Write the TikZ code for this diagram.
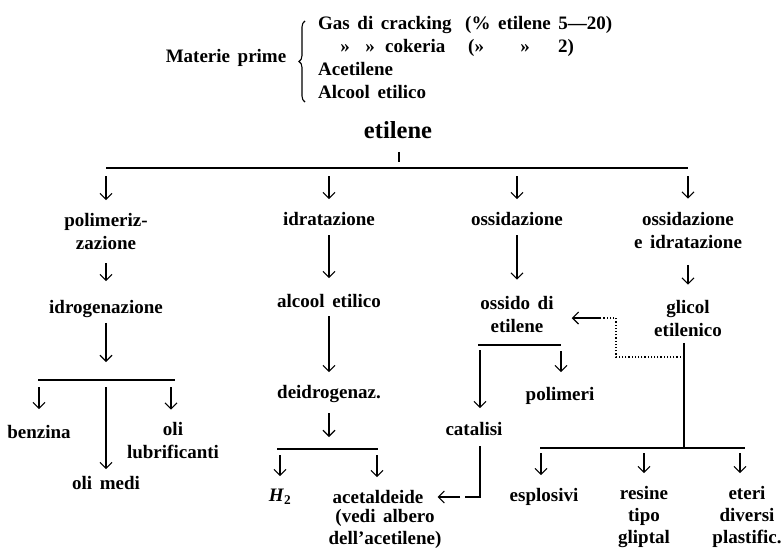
\documentclass[tikz,border=0pt]{standalone}
\usepackage{fontspec}
\setmainfont{Liberation Serif}[WordSpace=1.6]
\usetikzlibrary{arrows.meta,decorations.pathreplacing}
\begin{document}
\begin{tikzpicture}[x=1pt,y=-1pt,
  lbl/.style={inner sep=0pt, align=center, font=\fontsize{19}{23}\selectfont\bfseries},
  tight/.style={lbl, font=\fontsize{19}{22}\selectfont\bfseries},
  src/.style={lbl, anchor=base west},
  ditto/.style={lbl, anchor=base},
  big/.style={inner sep=0pt, font=\fontsize{24.5}{28}\selectfont\bfseries},
  ln/.style={line width=1.1pt},
  arr/.style={ln, -{Straight Barb[length=6pt,width=12pt]}},
  dots/.style={line width=1.2pt, dash pattern=on 1.2pt off 2pt},
]
\fill[white] (0,0) rectangle (784,551);
\useasboundingbox (0,0) rectangle (784,551);

% raw materials
\node[lbl] (mp) at (226,58) {Materie prime};
\draw[ln, decorate, decoration={brace, amplitude=6pt}] (305,102) -- (305,21);
\node[src]   (gas)  at (318,29.5) {Gas di cracking};
\node[src]   (gasp) at (465,29.5) {(\% etilene 5—20)};
\node[ditto] (d1)   at (345,52.5) {»};
\node[ditto] (d2)   at (370,52.5) {»};
\node[src]   (cok)  at (385,52.5) {cokeria};
\node[src]   (cokp) at (468,52.5) {(»};
\node[ditto] (d3)   at (525,52.5) {»};
\node[src]   (cokn) at (558,52.5) {2)};
\node[src]   (acet) at (318,75.5) {Acetilene};
\node[src]   (alc)  at (318,98.5) {Alcool etilico};

% root
\node[big] (etilene) at (398,130) {etilene};
\coordinate (bt) at (399,168);
\coordinate (b1) at (106,168);
\coordinate (b2) at (329,168);
\coordinate (b3) at (517,168);
\coordinate (b4) at (688,168);
\draw[ln] (b1) -- (b4);
\draw[ln, shorten <=13pt, shorten >=6pt] (etilene.south -| bt) -- (bt);

% first level
\node[lbl] (polim) at (106,231.5) {polimeriz-\\zazione};
\node[lbl] (idrat) at (329,219) {idratazione};
\node[lbl] (ossid) at (517,219) {ossidazione};
\node[lbl] (ossie) at (688,230) {ossidazione\\e idratazione};
\foreach \b/\n in {b1/polim, b2/idrat, b3/ossid, b4/ossie}
  \draw[arr, shorten <=8pt, shorten >=13pt] (\b) -- (\b |- \n.north);

% polymerisation branch
\node[lbl] (idrog) at (106,309) {idrogenazione};
\node[lbl] (benz)  at (39,432) {benzina};
\node[lbl] (olil)  at (173,441) {oli\\lubrificanti};
\node[lbl] (olim)  at (106,483) {oli medi};
\coordinate (c1) at (39,380);
\coordinate (c2) at (106,380);
\coordinate (c3) at (171,380);
\draw[arr, shorten <=13.5pt, shorten >=19pt] (polim.south) -- (idrog.north);
\draw[arr, shorten <=5pt, shorten >=18pt] (idrog.south) -- (c2);
\draw[ln] ([xshift=-1pt]c1) -- ([xshift=4pt]c3);
\draw[arr, shorten <=7pt, shorten >=16pt] (c1) -- (c1 |- benz.north);
\draw[arr, shorten <=7pt, shorten >=13pt] (c3) -- (c3 |- olil.north);
\draw[arr, shorten <=7pt, shorten >=7pt] (c2) -- (olim.north);

% hydration branch
\node[lbl]   (alcool) at (329,301) {alcool etilico};
\node[lbl]   (deidro) at (329,394) {deidrogenaz.};
\node[lbl]   (htwo)   at (280,497) {\textit{H}\textsubscript{2}};
\node[lbl]   (aceta)  at (378,497) {acetaldeide};
\node[tight] (vedi)   at (385,529) {(vedi albero\\dell’acetilene)};
\coordinate (dd1) at (280,449);
\coordinate (dd2) at (377,449);
\draw[arr, shorten <=9.5pt, shorten >=16pt] (idrat.south) -- (alcool.north);
\draw[arr, shorten <=8.5pt, shorten >=13pt] (alcool.south) -- (deidro.north);
\draw[arr, shorten <=10.5pt, shorten >=12pt] (deidro.south) -- (deidro.south |- dd1);
\draw[ln] ([xshift=-3pt]dd1) -- ([xshift=1pt]dd2);
\draw[arr, shorten <=6pt, shorten >=13pt] (dd1) -- (dd1 |- htwo.north);
\draw[arr, shorten <=6pt, shorten >=13pt] (dd2) -- (dd2 |- aceta.north);

% oxidation branch
\node[lbl] (ossido) at (517,314) {ossido di\\etilene};
\node[lbl] (polimeri) at (560,396) {polimeri};
\node[lbl] (catal) at (474,429) {catalisi};
\coordinate (e1) at (480,345);
\coordinate (e2) at (561,345);
\draw[arr, shorten <=9.5pt, shorten >=16pt] (ossid.south) -- (ossido.north);
\draw[ln] ([xshift=-2pt]e1) -- (e2);
\draw[arr, shorten <=5pt, shorten >=14pt] (e1) -- (e1 |- catal.north);
\draw[arr, shorten <=6pt, shorten >=15pt] (e2) -- (e2 |- polimeri.north);
\coordinate (ck) at (480,497);
\coordinate (cs) at (465,497);
\coordinate (ca) at (460,497);
\draw[ln, shorten <=10.5pt] (catal.south -| ck) -- (ck) -- (cs);
\draw[arr, shorten >=14pt] (ca) -- (aceta.east);

% oxidation and hydration branch
\node[lbl]   (glicol) at (688,318) {glicol\\etilenico};
\node[lbl]   (espl)   at (544,497) {esplosivi};
\node[tight] (resine) at (644,517) {resine\\tipo\\gliptal};
\node[tight] (eteri)  at (747,517) {eteri\\diversi\\plastific.};
\coordinate (g0) at (684,448);
\coordinate (f1) at (541,448);
\coordinate (f2) at (644,448);
\coordinate (f3) at (740,448);
\draw[arr, shorten <=16.5pt, shorten >=15pt] (ossie.south) -- (glicol.north);
\draw[ln, shorten <=6.5pt] (g0 |- glicol.south) -- (g0);
\draw[ln] ([xshift=-1pt]f1) -- ([xshift=5pt]f3);
\draw[arr, shorten <=5pt, shorten >=13pt] (f1) -- (f1 |- espl.north);
\draw[arr, shorten <=5pt, shorten >=13pt] (f2) -- (f2 |- resine.north);
\draw[arr, shorten <=5pt, shorten >=13pt] (f3) -- (f3 |- eteri.north);

% dotted link from the glycol line back to ethylene oxide
\coordinate (dj) at (684,357);
\coordinate (dk) at (616,357);
\coordinate (dl) at (616,318);
\coordinate (dm) at (600,318);
\draw[dots] (dj) -- (dk) -- (dl) -- (dm);
\draw[arr, shorten >=18pt] (dm) -- (dm -| ossido.east);
\end{tikzpicture}
\end{document}
